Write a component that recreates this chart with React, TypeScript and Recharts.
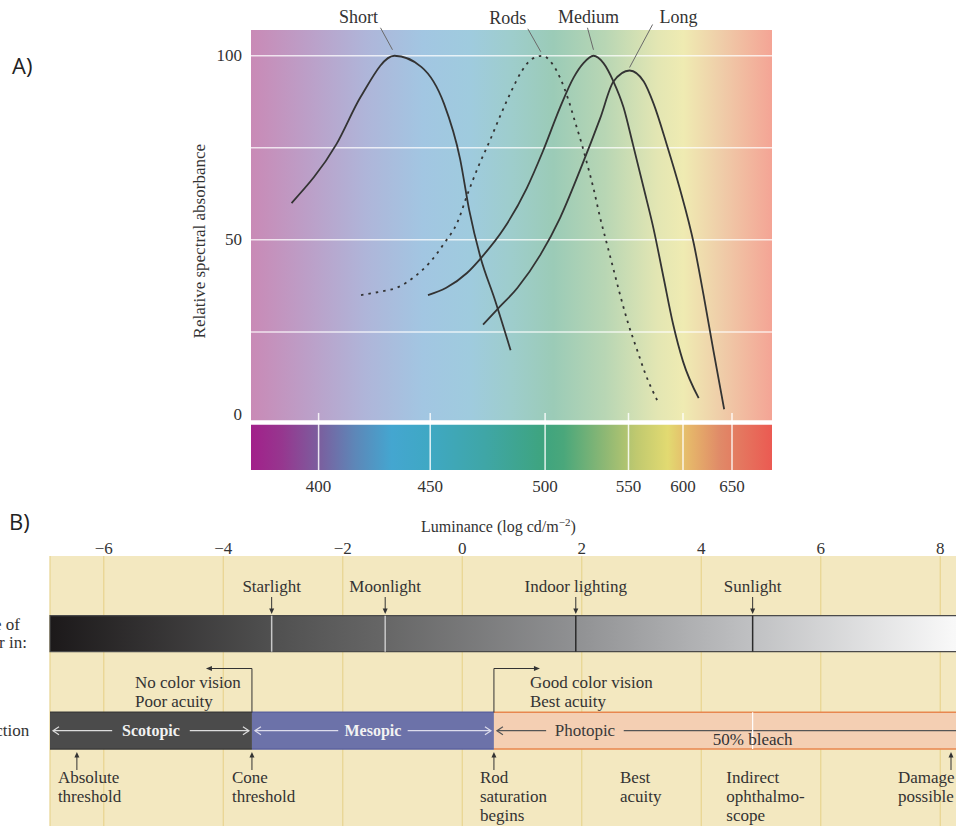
import React from 'react';
import {
  ComposedChart,
  Line,
  Scatter,
  XAxis,
  YAxis,
  CartesianGrid,
  ReferenceArea,
  ReferenceLine,
  ReferenceDot,
} from 'recharts';

// A) relative spectral absorbance (wavelength nm / %)
const shortNm = [388, 408, 419, 434, 446, 456, 463, 467, 472, 478, 485];
const shortAbs = [60, 76, 89, 100, 97, 87, 72, 58, 45, 34, 20];
const rodsNm = [419, 428, 435, 443, 450, 456, 462, 466, 471, 476, 480, 485, 490, 494, 499, 504, 509, 514, 518, 522, 525, 529, 533, 537, 541, 545, 550, 558, 565, 577];
const rodsAbs = [35, 36, 37, 40, 44, 49, 55, 62, 70, 77, 83, 90, 96, 99, 100, 98, 94, 88, 82, 76, 71, 64, 56, 49, 42, 35, 27, 20, 14, 6];
const mediumNm = [449, 457, 466, 472, 482, 492, 499, 509, 517, 523, 529, 535, 541, 547, 554, 564, 573, 582, 591, 600, 616];
const mediumAbs = [35, 37, 41, 45, 53, 64, 74, 86, 94, 98, 100, 98, 93, 86, 76, 64, 53, 40, 27, 17, 7];
const longNm = [473, 479, 488, 498, 509, 521, 533, 541, 551, 564, 573, 585, 597, 611, 621, 631, 642];
const longAbs = [27, 31, 37, 46, 56, 69, 83, 93, 96, 93, 87, 76, 64, 49, 35, 20, 4];

const wavelengthTicks = [400, 450, 500, 550, 600, 650];
const absorbanceTicks = [0, 50, 100];
const absorbanceGrid = [25, 50, 75, 100];

// B) luminance scale (log cd/m-2)
const luminanceRange = [-6.9, 9];
const luminanceTicks = [-6, -4, -2, 0, 2, 4, 6, 8];
const lightSources = ['Starlight', 'Moonlight', 'Indoor lighting', 'Sunlight'];
const lightLevels = [-3.19, -1.29, 1.9, 4.86];
const visionModes = ['Scotopic', 'Mesopic', 'Photopic'];
const modeStart = [-6.9, -3.52, 0.53];
const modeEnd = [-3.52, 0.53, 9];
const bleachLevel = 4.86;
const noteLabels = [
  ['Absolute', 'threshold'],
  ['Cone', 'threshold'],
  ['Rod', 'saturation', 'begins'],
  ['Best', 'acuity'],
  ['Indirect', 'ophthalmo-', 'scope'],
  ['Damage', 'possible'],
];
const noteLevels = [-6.45, -3.52, 0.53, 2.64, 4.42, 8.18];
const noteArrows = [true, true, true, false, false, true];

const serif = '"Liberation Serif", "Times New Roman", serif';
const ink = '#333';

// the wavelength axis of the original is not linear: nm -> px inside the plot
const axisNm = [370, 400, 450, 500, 550, 600, 650, 691];
const axisPos = [0, 67.6, 179.2, 294.1, 377.5, 432, 481, 521];
const warp = (nm: number) => {
  for (let i = 1; i < axisNm.length; i++) {
    if (nm <= axisNm[i] || i === axisNm.length - 1) {
      const t = (nm - axisNm[i - 1]) / (axisNm[i] - axisNm[i - 1]);
      return axisPos[i - 1] + t * (axisPos[i] - axisPos[i - 1]);
    }
  }
  return 0;
};

const curves = [
  { name: 'Short', nm: shortNm, abs: shortAbs, dash: undefined as string | undefined },
  { name: 'Rods', nm: rodsNm, abs: rodsAbs, dash: '2.5 5' },
  { name: 'Medium', nm: mediumNm, abs: mediumAbs, dash: undefined },
  { name: 'Long', nm: longNm, abs: longAbs, dash: undefined },
].map((c) => {
  const data = c.nm.map((nm, i) => ({ pos: warp(nm), abs: c.abs[i] }));
  const peak = data.reduce((m, d) => (d.abs > m.abs ? d : m), data[0]);
  return { ...c, data, peak };
});

// leader line + label offsets (px) from each peak
const leaders = [
  { x1: -14, y1: -28, x2: -2, y2: -6, tx: -36, ty: -39 },
  { x1: -15, y1: -27, x2: -2, y2: -4, tx: -35, ty: -38 },
  { x1: -6, y1: -28, x2: 0, y2: -6, tx: -5, ty: -39 },
  { x1: 23, y1: -46, x2: 0, y2: -3, tx: 49, ty: -54 },
];

// vertical layout of panel B (px below the top of the beige area)
const rowB = { label: 30, barTop: 59.7, barBottom: 95.7, bracket: 112.5, bandTop: 156.3, bandBottom: 193, note: 196 };
const markerStroke = ['#c8c8c8', '#c8c8c8', '#2b2b2b', '#2b2b2b'];
const bandStyles = [
  { fill: '#4b4b4b', edge: '#3d3d3d', text: '#f2f2f2', line: '#dcdcdc', bold: true, textDx: 0, open: false },
  { fill: '#6c72a9', edge: '#5c63a0', text: '#f2f2f2', line: '#dcdcec', bold: true, textDx: 0, open: false },
  { fill: '#f4cfb3', edge: '#e8874f', text: '#3a3a3a', line: '#555', bold: false, textDx: 91, open: true },
];
const noteDx = [-19, -20, -14, 0, 0, -53];

const lightData = lightSources.map((name, i) => ({ lum: lightLevels[i], row: rowB.label, name }));
const noteData = noteLabels.map((lines, i) => ({
  lum: noteLevels[i],
  row: rowB.note,
  lines,
  arrow: noteArrows[i],
  dx: noteDx[i],
}));

const AbsTick = ({ x, y, payload }: any) => (
  <text
    x={x}
    y={payload.value === 0 ? y - 9 : y}
    textAnchor="end"
    dominantBaseline="central"
    fontFamily={serif}
    fontSize={17}
    fill={ink}
  >
    {payload.value}
  </text>
);

const AbsTitle = ({ viewBox }: any) => {
  const x = viewBox.x + 9;
  const y = viewBox.y + viewBox.height * 0.48;
  return (
    <text
      x={x}
      y={y}
      transform={`rotate(-90 ${x} ${y})`}
      textAnchor="middle"
      dominantBaseline="central"
      fontFamily={serif}
      fontSize={17}
      fill={ink}
    >
      Relative spectral absorbance
    </text>
  );
};

const PeakLabel = ({ cx, cy, name, lay }: any) => (
  <g>
    <line x1={cx + lay.x1} y1={cy + lay.y1} x2={cx + lay.x2} y2={cy + lay.y2} stroke="#6a6a6a" strokeWidth={1} />
    <text x={cx + lay.tx} y={cy + lay.ty} textAnchor="middle" dominantBaseline="central" fontFamily={serif} fontSize={18} fill={ink}>
      {name}
    </text>
  </g>
);

const LightMarker = ({ cx, cy, payload }: any) => (
  <g>
    <text x={cx} y={cy} textAnchor="middle" dominantBaseline="central" fontFamily={serif} fontSize={17} fill={ink}>
      {payload.name}
    </text>
    <line x1={cx} y1={cy + 11} x2={cx} y2={cy + 24} stroke={ink} strokeWidth={1} />
    <path d={`M${cx - 2.5},${cy + 22.5} L${cx + 2.5},${cy + 22.5} L${cx},${cy + 28} Z`} fill={ink} />
  </g>
);

const Note = ({ cx, cy, payload }: any) => (
  <g>
    {payload.arrow && <line x1={cx} y1={cy + 18} x2={cx} y2={cy + 4} stroke={ink} strokeWidth={1} />}
    {payload.arrow && <path d={`M${cx - 2.5},${cy + 5.5} L${cx + 2.5},${cy + 5.5} L${cx},${cy} Z`} fill={ink} />}
    {payload.lines.map((t: string, k: number) => (
      <text key={t} x={cx + payload.dx} y={cy + 25.5 + k * 19} dominantBaseline="central" fontFamily={serif} fontSize={17} fill={ink}>
        {t}
      </text>
    ))}
  </g>
);

const BandShape = ({ x, y, width, height, name, st }: any) => {
  const mid = y + height / 2;
  const tx = st.textDx ? x + st.textDx : x + width / 2;
  const half = name.length * 4.1 + 6;
  const x0 = x + 3;
  const x1 = x + width - 3;
  return (
    <g>
      <rect x={x} y={y} width={width} height={height} fill={st.fill} />
      <line x1={x} y1={y} x2={x + width} y2={y} stroke={st.edge} strokeWidth={1.5} />
      <line x1={x} y1={y + height} x2={x + width} y2={y + height} stroke={st.edge} strokeWidth={1.5} />
      <line x1={x0} y1={mid} x2={tx - half} y2={mid} stroke={st.line} strokeWidth={1.2} />
      <line x1={tx + half} y1={mid} x2={x1} y2={mid} stroke={st.line} strokeWidth={1.2} />
      <path d={`M${x0 + 6},${mid - 4} L${x0},${mid} L${x0 + 6},${mid + 4}`} fill="none" stroke={st.line} strokeWidth={1.2} />
      {!st.open && (
        <path d={`M${x1 - 6},${mid - 4} L${x1},${mid} L${x1 - 6},${mid + 4}`} fill="none" stroke={st.line} strokeWidth={1.2} />
      )}
      <text
        x={tx}
        y={mid}
        textAnchor="middle"
        dominantBaseline="central"
        fontFamily={serif}
        fontSize={st.bold ? 16 : 17}
        fontWeight={st.bold ? 'bold' : 'normal'}
        fill={st.text}
      >
        {name}
      </text>
    </g>
  );
};

const Bracket = ({ cx, cy, dir, lines, textDx }: any) => {
  const end = cx + dir * 46;
  return (
    <g>
      <polyline points={`${cx},${cy + 44} ${cx},${cy} ${end - dir * 5},${cy}`} fill="none" stroke={ink} strokeWidth={1} />
      <path d={`M${end - dir * 6},${cy - 2.5} L${end - dir * 6},${cy + 2.5} L${end},${cy} Z`} fill={ink} />
      {lines.map((t: string, k: number) => (
        <text key={t} x={cx + textDx} y={cy + 13.5 + k * 19} dominantBaseline="central" fontFamily={serif} fontSize={17} fill={ink}>
          {t}
        </text>
      ))}
    </g>
  );
};

const lumTick = (v: number) => (v < 0 ? `\u2212${Math.abs(v)}` : String(v));

const sideText: React.CSSProperties = {
  position: 'absolute',
  left: -75,
  fontFamily: serif,
  fontSize: 17,
  color: ink,
  whiteSpace: 'nowrap',
  lineHeight: '18px',
};

export default function App() {
  return (
    <div
      style={{
        position: 'absolute',
        left: 0,
        top: 0,
        width: 956,
        height: 826,
        overflow: 'hidden',
        background: '#fff',
        fontFamily: serif,
      }}
    >
      <div style={{ position: 'absolute', left: 12, top: 50, fontFamily: '"Open Sans", sans-serif', fontSize: 22, color: '#222' }}>A)</div>
      <div style={{ position: 'absolute', left: 9, top: 506, fontFamily: '"Open Sans", sans-serif', fontSize: 22, color: '#222' }}>B)</div>

      {/* A) spectral absorbance */}
      <div style={{ position: 'absolute', left: 0, top: 0 }}>
        <ComposedChart width={956} height={500} margin={{ top: 30, right: 184, bottom: 0, left: 191 }}>
          <defs>
            <linearGradient id="pastel" x1="0" y1="0" x2="1" y2="0">
              <stop offset="0" stopColor="#c98ab6" />
              <stop offset="0.1" stopColor="#bd9dc6" />
              <stop offset="0.22" stopColor="#afb5d9" />
              <stop offset="0.33" stopColor="#a2c6e2" />
              <stop offset="0.42" stopColor="#9fcbde" />
              <stop offset="0.5" stopColor="#9ecdcc" />
              <stop offset="0.58" stopColor="#9bcbb7" />
              <stop offset="0.68" stopColor="#b8d6b4" />
              <stop offset="0.78" stopColor="#e3e6b3" />
              <stop offset="0.83" stopColor="#efebb2" />
              <stop offset="0.9" stopColor="#efcea9" />
              <stop offset="1" stopColor="#f4a495" />
            </linearGradient>
            <linearGradient id="spectrum" x1="0" y1="0" x2="1" y2="0">
              <stop offset="0" stopColor="#a2208a" />
              <stop offset="0.06" stopColor="#96378f" />
              <stop offset="0.13" stopColor="#7b5e9e" />
              <stop offset="0.2" stopColor="#5d87b8" />
              <stop offset="0.27" stopColor="#44a6d0" />
              <stop offset="0.34" stopColor="#3fa8c4" />
              <stop offset="0.45" stopColor="#3fa6a6" />
              <stop offset="0.56" stopColor="#3ea47f" />
              <stop offset="0.6" stopColor="#4aa77b" />
              <stop offset="0.68" stopColor="#8eb874" />
              <stop offset="0.74" stopColor="#c0c96f" />
              <stop offset="0.8" stopColor="#e2da71" />
              <stop offset="0.84" stopColor="#e6b86a" />
              <stop offset="0.9" stopColor="#e08a68" />
              <stop offset="1" stopColor="#eb5a52" />
            </linearGradient>
          </defs>
          <XAxis
            type="number"
            dataKey="pos"
            domain={[axisPos[0], axisPos[axisPos.length - 1]]}
            allowDataOverflow
            ticks={wavelengthTicks.map(warp)}
            tickFormatter={(_v: number, i: number) => String(wavelengthTicks[i])}
            axisLine={false}
            tickLine={false}
            tickSize={0}
            tickMargin={10}
            height={30}
            tick={{ fill: ink, fontSize: 17, fontFamily: serif }}
          />
          <YAxis
            type="number"
            domain={[-12.5, 107]}
            allowDataOverflow
            ticks={absorbanceTicks}
            width={60}
            axisLine={false}
            tickLine={false}
            tickSize={0}
            tickMargin={9}
            tick={<AbsTick />}
            label={<AbsTitle />}
          />
          <ReferenceArea
            x1={axisPos[0]}
            x2={axisPos[axisPos.length - 1]}
            y1={1}
            y2={107}
            fill="url(#pastel)"
            fillOpacity={1}
            stroke="none"
          />
          <ReferenceArea
            x1={axisPos[0]}
            x2={axisPos[axisPos.length - 1]}
            y1={-12.5}
            y2={-0.2}
            fill="url(#spectrum)"
            fillOpacity={1}
            stroke="none"
          />
          {absorbanceGrid.map((v) => (
            <ReferenceLine key={`g${v}`} y={v} stroke="#ffffff" strokeOpacity={0.75} strokeWidth={1.5} />
          ))}
          {wavelengthTicks.map((nm) => (
            <ReferenceLine
              key={`t${nm}`}
              segment={[
                { x: warp(nm), y: 3 },
                { x: warp(nm), y: -12.5 },
              ]}
              stroke="#ffffff"
              strokeOpacity={0.85}
              strokeWidth={1.5}
            />
          ))}
          {curves.map((c) => (
            <Line
              key={c.name}
              data={c.data}
              dataKey="abs"
              type="monotone"
              stroke="#333"
              strokeWidth={1.8}
              strokeDasharray={c.dash}
              dot={false}
              activeDot={false}
              isAnimationActive={false}
            />
          ))}
          {curves.map((c, i) => (
            <ReferenceDot
              key={`p${c.name}`}
              x={c.peak.pos}
              y={c.peak.abs}
              r={0}
              shape={(p: any) => <PeakLabel {...p} name={c.name} lay={leaders[i]} />}
            />
          ))}
        </ComposedChart>
      </div>

      {/* B) luminance scale */}
      <div
        style={{
          position: 'absolute',
          left: 421,
          top: 516,
          fontFamily: serif,
          fontSize: 16,
          color: ink,
          whiteSpace: 'nowrap',
        }}
      >
        Luminance (log cd/m<sup style={{ fontSize: 11 }}>{'\u2212'}2</sup>)
      </div>
      <div style={{ ...sideText, top: 616 }}>Luminance of</div>
      <div style={{ ...sideText, top: 634 }}>white paper in:</div>
      <div style={{ ...sideText, top: 722 }}>Visual function</div>

      <div style={{ position: 'absolute', left: 0, top: 500 }}>
        <ComposedChart data={lightData} width={1000} height={326} margin={{ top: 0, right: 0, bottom: 0, left: 50 }}>
          <defs>
            <linearGradient id="lum" x1="0" y1="0" x2="1" y2="0">
              <stop offset="0" stopColor="#1c191a" />
              <stop offset="0.23" stopColor="#4f4f4f" />
              <stop offset="0.35" stopColor="#666666" />
              <stop offset="0.55" stopColor="#8f9092" />
              <stop offset="0.74" stopColor="#c0c1c3" />
              <stop offset="0.95" stopColor="#f8f8f8" />
              <stop offset="1" stopColor="#ffffff" />
            </linearGradient>
          </defs>
          <CartesianGrid horizontal={false} fill="#f3e8c0" fillOpacity={1} stroke="#e8d48f" strokeWidth={1.2} />
          <XAxis
            type="number"
            dataKey="lum"
            orientation="top"
            domain={luminanceRange}
            allowDataOverflow
            ticks={luminanceTicks}
            tickFormatter={lumTick}
            height={56}
            axisLine={false}
            tickLine={false}
            tickSize={0}
            tickMargin={2}
            tick={{ fill: ink, fontSize: 17, fontFamily: serif }}
          />
          <YAxis hide type="number" dataKey="row" domain={[0, 270]} reversed allowDataOverflow />
          <ReferenceArea
            x1={luminanceRange[0]}
            x2={luminanceRange[1]}
            y1={rowB.barTop}
            y2={rowB.barBottom}
            fill="url(#lum)"
            fillOpacity={1}
            stroke="#4a4a4a"
            strokeWidth={1.2}
          />
          {visionModes.map((m, i) => (
            <ReferenceArea
              key={m}
              x1={modeStart[i]}
              x2={modeEnd[i]}
              y1={rowB.bandTop}
              y2={rowB.bandBottom}
              shape={(p: any) => <BandShape {...p} name={m} st={bandStyles[i]} />}
            />
          ))}
          {lightLevels.map((v, i) => (
            <ReferenceLine
              key={`m${i}`}
              segment={[
                { x: v, y: rowB.barTop },
                { x: v, y: rowB.barBottom },
              ]}
              stroke={markerStroke[i]}
              strokeWidth={1.5}
            />
          ))}
          <ReferenceLine
            segment={[
              { x: bleachLevel, y: rowB.bandTop },
              { x: bleachLevel, y: rowB.bandBottom },
            ]}
            stroke="#ffffff"
            strokeWidth={1.2}
          />
          <Scatter data={lightData} dataKey="row" shape={<LightMarker />} isAnimationActive={false} />
          <Scatter data={noteData} dataKey="row" shape={<Note />} isAnimationActive={false} />
          <ReferenceDot
            x={bleachLevel}
            y={(rowB.bandTop + rowB.bandBottom) / 2 + 9}
            r={0}
            shape={(p: any) => (
              <text x={p.cx} y={p.cy} textAnchor="middle" dominantBaseline="central" fontFamily={serif} fontSize={17} fill={ink}>
                50% bleach
              </text>
            )}
          />
          <ReferenceDot
            x={modeEnd[0]}
            y={rowB.bracket}
            r={0}
            shape={(p: any) => <Bracket {...p} dir={-1} textDx={-117} lines={['No color vision', 'Poor acuity']} />}
          />
          <ReferenceDot
            x={modeEnd[1]}
            y={rowB.bracket}
            r={0}
            shape={(p: any) => <Bracket {...p} dir={1} textDx={36} lines={['Good color vision', 'Best acuity']} />}
          />
        </ComposedChart>
      </div>
    </div>
  );
}
